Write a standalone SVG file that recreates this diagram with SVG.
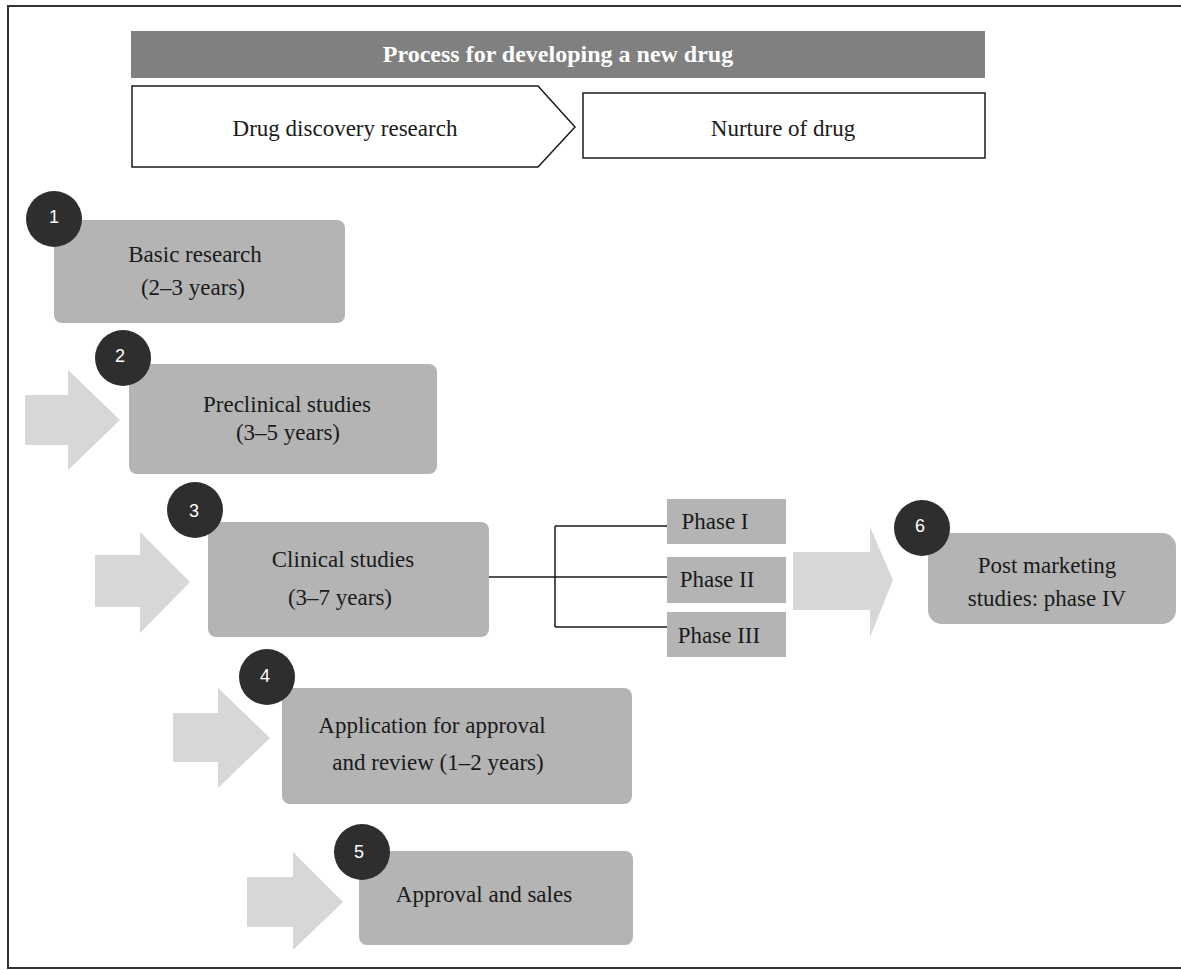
<svg xmlns="http://www.w3.org/2000/svg" width="1181" height="970" viewBox="0 0 1181 970">
<style>
.t{font-family:"Liberation Serif","Times New Roman",serif;font-size:23px;fill:#1a1a1a;text-anchor:middle}
.box{fill:#b4b4b4}
.arr{fill:#d7d7d7}
.num{fill:#2e2e2e}
.nt{font-family:"Liberation Sans",Arial,sans-serif;font-size:18px;fill:#ffffff;text-anchor:middle}
.ln{stroke:#1a1a1a;stroke-width:1.5;fill:none}
</style>
<rect x="1" y="1" width="1179" height="968" fill="#ffffff"/>
<rect id="frame" x="8" y="6" width="1180" height="962" fill="none" stroke="#333333" stroke-width="2"/>
<g id="title">
<rect x="131" y="31" width="854" height="47" fill="#808080"/>
<text class="t" x="558" y="62" style="fill:#ffffff;font-weight:bold;font-size:24px">Process for developing a new drug</text>
</g>
<g id="discovery">
<path d="M132,86 L538,86 L575,127 L538,167 L132,167 Z" fill="#ffffff" stroke="#1a1a1a" stroke-width="1.5"/>
<text class="t" x="345" y="136">Drug discovery research</text>
</g>
<g id="nurture">
<rect x="583" y="93" width="402" height="65" fill="#ffffff" stroke="#1a1a1a" stroke-width="1.5"/>
<text class="t" x="783" y="136">Nurture of drug</text>
</g>
<g id="connectors">
<path class="arr" d="M25,395 L68,395 L68,370 L120,420 L68,470 L68,445 L25,445 Z"/>
<path class="arr" d="M95,555 L140,555 L140,532 L190,582 L140,633 L140,607 L95,607 Z"/>
<path class="arr" d="M173,713 L218,713 L218,688 L270,738 L218,788 L218,762 L173,762 Z"/>
<path class="arr" d="M247,877 L293,877 L293,852 L343,902 L293,950 L293,927 L247,927 Z"/>
<path class="arr" d="M793,552 L870,552 L870,527 L893,580 L870,637 L870,610 L793,610 Z"/>
<path class="ln" d="M489,577 L555,577 M555,526 L555,627 M555,526 L667,526 M555,577 L667,577 M555,627 L667,627"/>
</g>
<g id="step1">
<rect class="box" x="54" y="220" width="291" height="103" rx="8"/>
<circle class="num" cx="54" cy="219" r="28"/>
<text class="nt" x="54" y="223">1</text>
<text class="t" x="195" y="262">Basic research</text>
<text class="t" x="193" y="295">(2–3 years)</text>
</g>
<g id="step2">
<rect class="box" x="129" y="364" width="308" height="110" rx="8"/>
<circle class="num" cx="123" cy="358" r="28"/>
<text class="nt" x="120" y="362">2</text>
<text class="t" x="287" y="412">Preclinical studies</text>
<text class="t" x="288" y="440">(3–5 years)</text>
</g>
<g id="step3">
<rect class="box" x="208" y="522" width="281" height="115" rx="8"/>
<circle class="num" cx="195" cy="510" r="28"/>
<text class="nt" x="194" y="517">3</text>
<text class="t" x="343" y="567">Clinical studies</text>
<text class="t" x="340" y="605">(3–7 years)</text>
</g>
<g id="phase1">
<rect class="box" x="667" y="499" width="119" height="45"/>
<text class="t" x="715" y="529">Phase I</text>
</g>
<g id="phase2">
<rect class="box" x="667" y="557" width="119" height="46"/>
<text class="t" x="717" y="587">Phase II</text>
</g>
<g id="phase3">
<rect class="box" x="667" y="612" width="119" height="45"/>
<text class="t" x="719" y="643">Phase III</text>
</g>
<g id="step4">
<rect class="box" x="282" y="688" width="350" height="116" rx="8"/>
<circle class="num" cx="267" cy="677" r="28"/>
<text class="nt" x="265" y="682">4</text>
<text class="t" x="432" y="733">Application for approval</text>
<text class="t" x="438" y="770">and review (1–2 years)</text>
</g>
<g id="step5">
<rect class="box" x="359" y="851" width="274" height="94" rx="8"/>
<circle class="num" cx="362" cy="852" r="28"/>
<text class="nt" x="359" y="858">5</text>
<text class="t" x="484" y="902">Approval and sales</text>
</g>
<g id="step6">
<rect class="box" x="928" y="533" width="248" height="91" rx="14"/>
<circle class="num" cx="922" cy="528" r="28"/>
<text class="nt" x="920" y="532">6</text>
<text class="t" x="1047" y="573">Post marketing</text>
<text class="t" x="1047" y="606">studies: phase IV</text>
</g>
</svg>
